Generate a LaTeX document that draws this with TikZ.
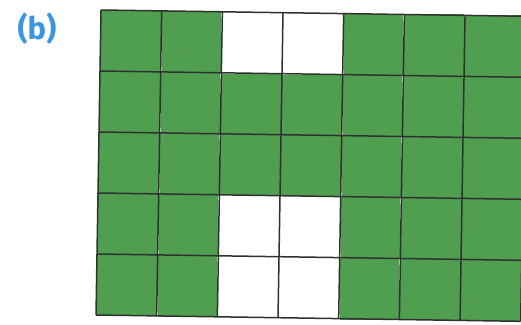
\documentclass[tikz,border=0pt]{standalone}
\usepackage{fontspec}
\setmainfont{Fira Sans}
\definecolor{cellgreen}{RGB}{80,158,80}
\definecolor{labelblue}{RGB}{58,150,225}
\definecolor{gridline}{RGB}{45,50,45}
\begin{document}
\begin{tikzpicture}[x=1pt,y=1pt,
  greencell/.style={fill=cellgreen},
  whitecell/.style={fill=white},
  gridstroke/.style={draw=gridline,line width=1.5pt}]
\useasboundingbox (0,0) rectangle (521,324);
\clip (0,0) rectangle (521,324);
\node[text=labelblue,font=\fontsize{31}{34}\selectfont\bfseries] (lbl) at (37,295) {(b)};
\begin{scope}[shift={(101,314)},x={(60.67pt,-0.9pt)},y={(-1pt,-61pt)}]
  \foreach \c in {0,...,6}{
    \foreach \r in {0,...,4}{
      \fill[cellgreen] (\c,\r) rectangle (\c+1,\r+1);
    }
  }
  \foreach \c/\r in {2/0,3/0,2/3,3/3,2/4,3/4}{
    \fill[white] (\c,\r) rectangle (\c+1,\r+1);
  }
  \foreach \c in {0,...,7}{
    \draw[gridstroke] (\c,0) -- (\c,5);
  }
  \foreach \r in {0,...,5}{
    \draw[gridstroke] (0,\r) -- (7,\r);
  }
\end{scope}
\end{tikzpicture}
\end{document}
